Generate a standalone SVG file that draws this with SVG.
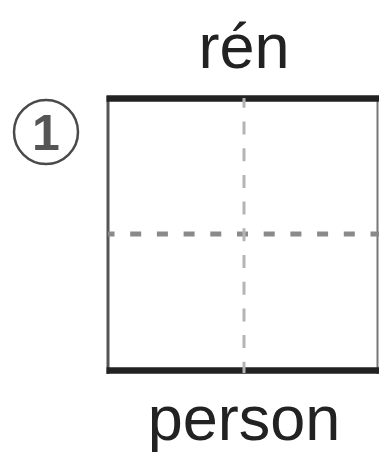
<svg xmlns="http://www.w3.org/2000/svg" width="379" height="452" viewBox="0 0 379 452">
<style>
.lbl{font-family:"Liberation Sans",Arial,sans-serif;font-size:63px;fill:#222;text-anchor:middle}
.edge{stroke:#222;stroke-width:6.5;fill:none}
.side{stroke:#555;stroke-width:3;fill:none}
.vguide{stroke:#b4b4b4;stroke-width:3;stroke-dasharray:13 13.7;stroke-dashoffset:3.2;fill:none}
.hguide{stroke:#8a8a8a;stroke-width:5;stroke-dasharray:11 15.7;stroke-dashoffset:4.5;fill:none}
</style>
<rect width="379" height="452" fill="#fff"/>
<g id="number">
<circle cx="46" cy="132" r="32" fill="none" stroke="#4a4a4a" stroke-width="2.5"/>
<text x="46" y="150" style="font-family:'Liberation Sans',Arial,sans-serif;font-size:50px;font-weight:bold;fill:#555;text-anchor:middle">1</text>
</g>
<g id="title"><text class="lbl" x="244" y="68">rén</text></g>
<g id="square">
<line class="side" x1="108" y1="96" x2="108" y2="374"/>
<line class="side" x1="377.5" y1="96" x2="377.5" y2="374" style="stroke:#777;stroke-width:2"/>
<line class="hguide" x1="108" y1="234" x2="379" y2="234"/>
<line class="edge" x1="106.5" y1="98.5" x2="379" y2="98.5"/>
<line class="edge" x1="106.5" y1="370.5" x2="379" y2="370.5"/>
<line class="vguide" x1="244" y1="98" x2="244" y2="373"/>
</g>
<g id="meaning"><text class="lbl" x="244" y="440">person</text></g>
</svg>
